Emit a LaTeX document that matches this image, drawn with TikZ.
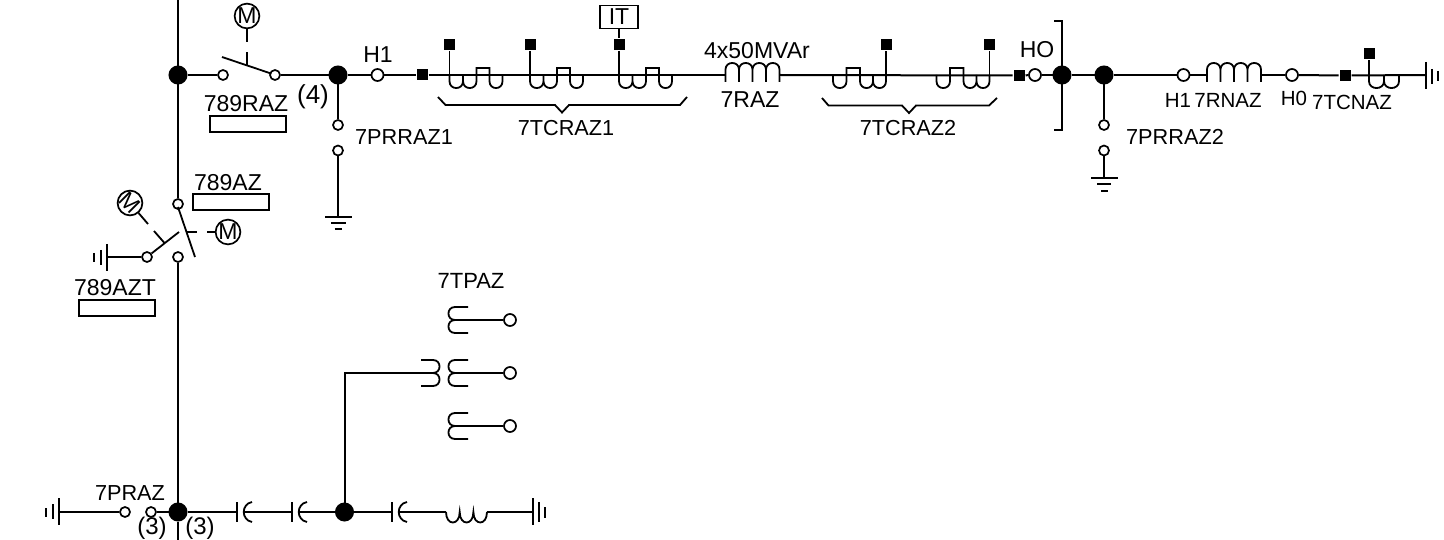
\documentclass[tikz,border=0pt]{standalone}
\usepackage{fontspec}
\setmainfont{Liberation Sans}
\newcommand{\ctU}[2]{(#1,0) -- (#1,6.3) .. controls (#1,15.3) and (#2,15.3) .. (#2,6.3) -- (#2,0)}
\newcommand{\ctH}[2]{(#1,0) -- (#1,-7) -- (#2,-7) -- (#2,0)}
\newcommand{\coilN}[2]{(#1,7) -- (#1,-5.5) .. controls (#1,-14.2) and (#2,-14.2) .. (#2,-5.5)}
\tikzset{
  wire/.style={line width=2pt},
  thin wire/.style={line width=1.8pt},
  jun/.style={circle,fill=black,draw=black,inner sep=0pt,minimum size=17pt},
  term/.style={circle,draw=black,fill=white,line width=1.7pt,inner sep=0pt,minimum size=10pt},
  termb/.style={term,minimum size=12pt},
  sq/.style={rectangle,fill=black,inner sep=0pt,minimum size=11pt},
  motor/.style={circle,draw=black,line width=1.7pt,inner sep=0pt,minimum size=23pt,font=\fontsize{23}{23}\selectfont},
  lab/.style={inner sep=0pt,font=\fontsize{23}{23}\selectfont},
  labm/.style={inner sep=0pt,font=\fontsize{21.7}{21.7}\selectfont},
  labs/.style={inner sep=0pt,font=\fontsize{20.5}{20.5}\selectfont},
  labp/.style={inner sep=0pt,font=\fontsize{26}{26}\selectfont},
  labq/.style={inner sep=0pt,font=\fontsize{24}{24}\selectfont},
  tag/.style={rectangle,draw=black,line width=1.7pt,inner sep=0pt,minimum width=76pt,minimum height=16pt},
  ctA/.pic={\draw[thin wire] \ctU{0}{13.5} \ctU{13.5}{27} \ctH{27}{40} \ctU{40}{53};},
  ctB/.pic={\draw[thin wire] \ctU{0}{13.5} \ctH{13.5}{27} \ctU{27}{40} \ctU{40}{53};},
  ctC/.pic={\draw[thin wire] \ctU{0}{15} \ctU{15}{30};},
  coil/.pic={\draw[thin wire] \coilN{0}{13.5} \coilN{13.5}{27} \coilN{27}{40.5} \coilN{40.5}{54} (54,-5.5) -- (54,7);},
  pts/.pic={\draw[thin wire] (20,-13) -- (7,-13) .. controls (-1.7,-13) and (-1.7,0) .. (7,0) .. controls (-1.7,0) and (-1.7,13) .. (7,13) -- (20,13);},
  ptp/.pic={\draw[thin wire] (-20,-13) -- (-8,-13) .. controls (0.7,-13) and (0.7,0) .. (-8,0) .. controls (0.7,0) and (0.7,13) .. (-8,13) -- (-20,13);}
}
\begin{document}
\begin{tikzpicture}[x=1pt,y=-1pt,wire]
\useasboundingbox (0,0) rectangle (1444,540);
\coordinate (w) at (0,75);
\coordinate (topa) at (178,0);
\coordinate (bota) at (178,540);
% junctions
\node[jun] (j1) at (178,75) {};
\node[jun] (j2) at (338,75) {};
\node[jun] (j3) at (1062,75) {};
\node[jun] (j4) at (1104,75) {};
\node[jun] (j5) at (178,512) {};
\node[jun] (j6) at (344.5,512) {};
% main bus
\node[term] (t1) at (178,204) {};
\node[term] (t2) at (178,257) {};
\draw (topa) -- (t1);
\draw (t2) -- (j5);
\draw (j5) -- (bota);
% 789RAZ
\node[term] (a1) at (223,75) {};
\node[term] (a2) at (275,75) {};
\coordinate (a3) at (222,57);
\coordinate (a4) at (271,73.5);
\coordinate (a5) at (247,65.2);
\coordinate (a6) at (247,52);
\coordinate (a7) at (247,42);
\node[motor] (m1) at (247,16) {M};
\draw (j1) -- (a1);
\draw (a2) -- (j2);
\draw[thin wire] (a3) -- (a4);
\draw[thin wire] (a5) -- (a6);
\draw[thin wire] (a7) -- (m1);
\node[lab] (l1) at (246,104) {789RAZ};
\node[tag] (b1) at (248,124) {};
\node[labp] (l2) at (313,97) {(4)};
% 7PRRAZ1
\node[term] (p1) at (338,125) {};
\node[term] (p2) at (338,150.5) {};
\coordinate (g1) at (338,217);
\draw (j2) -- (p1);
\draw (p2) -- (g1);
\draw (325,217) coordinate (g1a) -- (352,217) coordinate (g1b);
\draw (331,223.5) coordinate (g1c) -- (346,223.5) coordinate (g1d);
\draw (334.5,229.5) coordinate (g1e) -- (342,229.5) coordinate (g1f);
\node[labm] (l3) at (404,137) {7PRRAZ1};
% H1
\node[termb] (h1) at (377.5,75) {};
\node[lab] (l4) at (378,55) {H1};
\node[sq] (s1) at (422,75) {};
\draw (j2) -- (h1);
\draw (h1) -- (s1);
% CTs 7TCRAZ1
\coordinate (r1a) at (726,75);
\coordinate (r1b) at (780,75);
\draw (s1) -- (r1a);
\pic at (449.5,75) {ctA};
\pic at (530,75) {ctA};
\pic at (619,75) {ctA};
\node[sq] (s2) at (449.5,44.5) {};
\node[sq] (s3) at (530,44.5) {};
\node[sq] (s4) at (619,44.5) {};
\draw[thin wire] (s2) -- (s2 |- w);
\draw[thin wire] (s3) -- (s3 |- w);
\draw[thin wire] (s4) -- (s4 |- w);
\node[rectangle,draw=black,line width=1.7pt,minimum width=38pt,minimum height=23pt,inner sep=0pt,lab] (it) at (619,17) {IT};
\draw[thin wire] (it) -- (s4);
\draw[thin wire] (438,97) -- (445.5,105) -- (555,105) -- (562,112.5) -- (569,105) -- (680,105) -- (687,97);
\node[labm] (l5) at (566,128) {7TCRAZ1};
% 7RAZ
\pic at (725.5,75) {coil};
\node[lab] (l6) at (757,51) {4x50MVAr};
\node[lab] (l7) at (750,100) {7RAZ};
% CTs 7TCRAZ2
\node[sq] (s5) at (1019,75.5) {};
\draw (r1b) -- (s5);
\pic at (833,75) {ctB};
\pic at (936.5,75) {ctB};
\node[sq] (s6) at (886,45) {};
\node[sq] (s7) at (989.5,45) {};
\draw[thin wire] (s6) -- (s6 |- w);
\draw[thin wire] (s7) -- (s7 |- w);
\draw[thin wire] (822,98) -- (828.5,105.5) -- (902,105.5) -- (909,113) -- (916,105.5) -- (989,105.5) -- (997,98);
\node[labm] (l8) at (908,128) {7TCRAZ2};
% H0
\node[termb] (h0) at (1035,75) {};
\node[lab] (l9) at (1037,50) {HO};
\draw (s5) -- (h0);
\draw (h0) -- (j3);
\draw (j3) -- (j4);
\draw (1054,21) coordinate (k1) -- (1062,21) coordinate (k2) -- (1062,130) coordinate (k3) -- (1054,130) coordinate (k4);
% 7PRRAZ2
\node[term] (p3) at (1104,125) {};
\node[term] (p4) at (1104,150.5) {};
\coordinate (g2) at (1104,178);
\draw (j4) -- (p3);
\draw (p4) -- (g2);
\draw (1091,178) coordinate (g2a) -- (1118,178) coordinate (g2b);
\draw (1097,184.5) coordinate (g2c) -- (1111,184.5) coordinate (g2d);
\draw (1101,191.5) coordinate (g2e) -- (1108,191.5) coordinate (g2f);
\node[labm] (l10) at (1175,137) {7PRRAZ2};
% 7RNAZ
\node[termb] (h2) at (1183.5,75) {};
\node[termb] (h3) at (1292,75) {};
\coordinate (r2a) at (1207,75);
\coordinate (r2b) at (1261,75);
\draw (j4) -- (h2);
\draw (h2) -- (r2a);
\pic at (1207,75) {coil};
\draw (r2b) -- (h3);
\node[sq] (s8) at (1345,75.5) {};
\draw (h3) -- (s8);
\coordinate (g3) at (1426,75);
\draw (s8) -- (g3);
\pic at (1369,75) {ctC};
\node[sq] (s9) at (1369,54) {};
\draw[thin wire] (s9) -- (s9 |- w);
\draw (1426,62) coordinate (g3a) -- (1426,89) coordinate (g3b);
\draw (1432,69) coordinate (g3c) -- (1432,84) coordinate (g3d);
\draw (1438,71) coordinate (g3e) -- (1438,81) coordinate (g3f);
\node[labs] (l11) at (1178,100) {H1};
\node[labs] (l12) at (1228,100) {7RNAZ};
\node[labs] (l13) at (1294,98) {H0};
\node[labs] (l14) at (1352,102) {7TCNAZ};
% 789AZ
\coordinate (c1) at (178,207);
\coordinate (c2) at (195,257);
\draw[thin wire] (c1) -- (c2);
\coordinate (c3) at (187,232);
\coordinate (c4) at (197,232);
\coordinate (c5) at (207,232);
\node[motor] (m2) at (228,232) {M};
\draw[thin wire] (c3) -- (c4);
\draw[thin wire] (c5) -- (m2);
\node[lab] (l15) at (228,183) {789AZ};
\node[tag] (b2) at (231,202) {};
% 789AZT
\node[term] (t3) at (147,257) {};
\coordinate (c6) at (179,232);
\draw[thin wire] (t3) -- (c6);
\node[motor,rotate=-45] (m3) at (130,203) {M};
\coordinate (c7) at (148,224);
\coordinate (c8) at (154,231);
\coordinate (c9) at (164.5,243);
\draw[thin wire] (m3) -- (c7);
\draw[thin wire] (c8) -- (c9);
\coordinate (g4) at (107,257);
\draw (t3) -- (g4);
\draw (107,244) coordinate (g4a) -- (107,271) coordinate (g4b);
\draw (101,250) coordinate (g4c) -- (101,265) coordinate (g4d);
\draw (94,253) coordinate (g4e) -- (94,262) coordinate (g4f);
\node[lab] (l16) at (115,288) {789AZT};
\node[tag] (b3) at (117,308) {};
% 7TPAZ
\node[lab,font=\fontsize{22}{22}\selectfont] (l17) at (471,281) {7TPAZ};
\pic at (448,320) {pts};
\pic at (448,373) {pts};
\pic at (448,426) {pts};
\node[termb] (u1) at (510,320) {};
\node[termb] (u2) at (510,373) {};
\node[termb] (u3) at (510,426) {};
\coordinate (u1a) at (455,320);
\coordinate (u2a) at (455,373);
\coordinate (u3a) at (455,426);
\draw[thin wire] (u1a) -- (u1);
\draw[thin wire] (u2a) -- (u2);
\draw[thin wire] (u3a) -- (u3);
\pic at (441,373) {ptp};
\coordinate (u4) at (344.5,373);
\coordinate (u5) at (433,373);
\draw (j6) -- (u4) -- (u5);
% bottom line
\coordinate (z1) at (59,512);
\node[term] (n1) at (125,512) {};
\node[term] (n2) at (151,512) {};
\draw (z1) -- (n1);
\draw (n2) -- (j5);
\draw (59,498) coordinate (z1a) -- (59,525) coordinate (z1b);
\draw (53,504) coordinate (z1c) -- (53,519) coordinate (z1d);
\draw (46,508) coordinate (z1e) -- (46,517) coordinate (z1f);
\node[labm] (l18) at (130,493) {7PRAZ};
\node[labq] (l19) at (152,528.5) {(3)};
\node[labq] (l20) at (200,528.5) {(3)};
% capacitors
\coordinate (d1) at (237,512);
\coordinate (d2) at (243.5,512);
\coordinate (d3) at (292,512);
\coordinate (d4) at (298.5,512);
\coordinate (d5) at (392,512);
\coordinate (d6) at (398.5,512);
\coordinate (d7) at (446,512);
\coordinate (d8) at (487,512);
\coordinate (d9) at (533,512);
\draw (j5) -- (d1);
\draw (d2) -- (d3);
\draw (d4) -- (j6);
\draw (j6) -- (d5);
\draw (d6) -- (d7);
\draw (d8) -- (d9);
\draw[thin wire] (237,502) -- (237,522);
\draw[thin wire] (292,502) -- (292,522);
\draw[thin wire] (392,502) -- (392,522);
\draw[thin wire] (252,502) .. controls (241,504) and (241,520) .. (252,522);
\draw[thin wire] (307,502) .. controls (296,504) and (296,520) .. (307,522);
\draw[thin wire] (407,502) .. controls (396,504) and (396,520) .. (407,522);
\draw[thin wire] (446,512) .. controls (446,526) and (459.7,526) .. (459.7,512)
  .. controls (459.7,526) and (473.4,526) .. (473.4,512)
  .. controls (473.4,526) and (487,526) .. (487,512);
\draw (533,498) coordinate (e1a) -- (533,525) coordinate (e1b);
\draw (539,502) coordinate (e1c) -- (539,522) coordinate (e1d);
\draw (545,507) coordinate (e1e) -- (545,518) coordinate (e1f);
\end{tikzpicture}
\end{document}
